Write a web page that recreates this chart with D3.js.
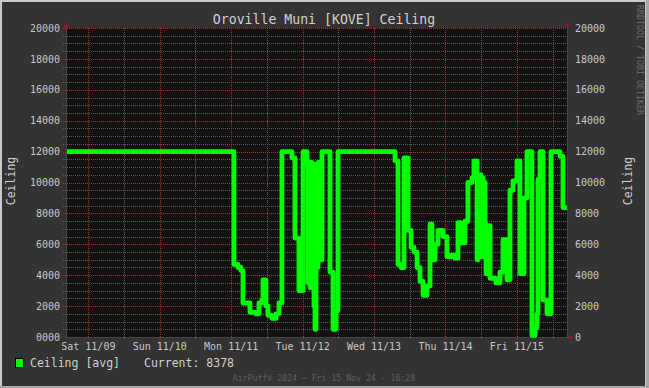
<!DOCTYPE html>
<html><head><meta charset="utf-8">
<script src="https://cdn.jsdelivr.net/npm/d3@7"></script>
<style>
body{margin:0;background:#333;}
svg{display:block;}
text{font-family:"DejaVu Sans Mono",monospace;}
</style>
</head><body>
<svg id="c" width="649" height="388"></svg>
<script>
const chartTitle = "Oroville Muni [KOVE] Ceiling";
const startTime = "2024-11-08T16:50";
const endTime = "2024-11-15T16:50";
const times = [
"2024-11-08T16:50",
"2024-11-11T00:56","2024-11-11T02:17","2024-11-11T03:17","2024-11-11T03:58","2024-11-11T06:19",
"2024-11-11T08:20","2024-11-11T09:20","2024-11-11T10:21","2024-11-11T10:41","2024-11-11T11:41",
"2024-11-11T12:22","2024-11-11T13:42","2024-11-11T15:03","2024-11-11T16:03","2024-11-11T17:03",
"2024-11-11T20:25","2024-11-11T21:26","2024-11-11T22:46",
"2024-11-12T00:08","2024-11-12T01:29","2024-11-12T01:49","2024-11-12T02:09","2024-11-12T02:29",
"2024-11-12T02:49","2024-11-12T03:10","2024-11-12T03:30","2024-11-12T03:50","2024-11-12T04:10",
"2024-11-12T04:30","2024-11-12T04:50","2024-11-12T05:10","2024-11-12T05:31","2024-11-12T05:51",
"2024-11-12T06:11","2024-11-12T06:31","2024-11-12T09:12","2024-11-12T10:13","2024-11-12T11:13",
"2024-11-12T11:54",
"2024-11-13T07:03","2024-11-13T08:04","2024-11-13T09:04","2024-11-13T10:05","2024-11-13T11:25",
"2024-11-13T12:26","2024-11-13T13:26","2024-11-13T14:27","2024-11-13T15:27","2024-11-13T16:28",
"2024-11-13T17:48","2024-11-13T18:49","2024-11-13T19:29","2024-11-13T20:30","2024-11-13T21:30",
"2024-11-13T23:11",
"2024-11-14T00:30","2024-11-14T01:51","2024-11-14T03:11","2024-11-14T04:12","2024-11-14T05:12",
"2024-11-14T06:33","2024-11-14T07:33","2024-11-14T08:54","2024-11-14T09:34","2024-11-14T10:37",
"2024-11-14T10:57","2024-11-14T11:17","2024-11-14T11:37","2024-11-14T11:58","2024-11-14T12:18",
"2024-11-14T12:38","2024-11-14T12:58","2024-11-14T13:18","2024-11-14T13:38","2024-11-14T13:59",
"2024-11-14T14:19","2024-11-14T14:39","2024-11-14T14:59","2024-11-14T16:58","2024-11-14T18:19",
"2024-11-14T19:19","2024-11-14T20:40","2024-11-14T21:40","2024-11-14T22:41",
"2024-11-15T00:01","2024-11-15T01:02","2024-11-15T02:23","2024-11-15T03:23","2024-11-15T05:04",
"2024-11-15T06:05","2024-11-15T06:45","2024-11-15T07:05","2024-11-15T07:46","2024-11-15T08:46",
"2024-11-15T10:07","2024-11-15T11:27","2024-11-15T14:29","2024-11-15T15:29","2024-11-15T16:50"
];
const ceilingValues = [
12000,
4700,4500,4300,2200,1600,
1500,2200,2400,3700,2000,
1400,1200,1500,2200,12000,
11600,6400,3000,
12000,11200,3500,11300,3200,
11300,4000,11200,2000,500,
11100,4500,11300,5000,11300,
5000,12000,4200,500,1700,
12000,
11400,4700,4500,11600,6900,
5800,5500,4500,3600,2700,
3300,7300,5000,6000,6900,
6500,
5200,5300,5100,7400,6100,
7500,10000,10300,11400,5000,
10400,5200,10500,5400,10300,
5200,10000,7300,4100,7200,
4100,7200,3800,3500,4200,
6300,3700,9500,10100,
11400,4100,9000,12000,100,
600,1500,10200,12000,2400,
1500,12000,11700,8378,8378
];
const yTicks = [0,2000,4000,6000,8000,10000,12000,14000,16000,18000,20000];
const leftTickLabels = ["0000","2000","4000","6000","8000","10000","12000","14000","16000","18000","20000"];
const rightTickLabels = ["0","2000","4000","6000","8000","10000","12000","14000","16000","18000","20000"];
const dayLabels = ["Sat 11/09","Sun 11/10","Mon 11/11","Tue 11/12","Wed 11/13","Thu 11/14","Fri 11/15"];
const axisLabel = "Ceiling";
const legendLabel = "Ceiling [avg]";
const currentLabel = "Current: 8378";
const footerText = "AirPuff\u00ae 2024 \u2013 Fri 15 Nov 24 - 16:28";
const watermark = "RRDTOOL / TOBI OETIKER";

const parse = d3.utcParse("%Y-%m-%dT%H:%M");
const data = times.map((t,i)=>({t:parse(t), v:ceilingValues[i]}));
const t0 = parse(startTime), t1 = parse(endTime);

const L=67, R=567, T=28, B=337;
const x = d3.scaleUtc().domain([t0,t1]).range([L,R]);
const y = d3.scaleLinear().domain([0,20000]).range([B,T]);

const svg = d3.select("#c");
// frame
svg.append("rect").attr("x",0).attr("y",0).attr("width",649).attr("height",388).attr("fill","#a8a8a8");
svg.append("rect").attr("x",0).attr("y",0).attr("width",646).attr("height",386).attr("fill","#c8c8c8");
svg.append("rect").attr("x",2).attr("y",2).attr("width",643).attr("height",384).attr("fill","#333333");
// plot bg
svg.append("rect").attr("x",L).attr("y",T).attr("width",R-L).attr("height",B-T).attr("fill","#121212");

const minorCol = "#5a5a5a", majorCol = "#a83232";
const gGrid = svg.append("g");
// horizontal grid
const minorY = d3.range(500,20000,500).filter(v=>v%2000!==0);
gGrid.append("g").selectAll("line").data(minorY).join("line")
  .attr("x1",L-4).attr("x2",R).attr("y1",d=>Math.round(y(d))+0.5).attr("y2",d=>Math.round(y(d))+0.5)
  .attr("stroke",minorCol).attr("stroke-width",1).attr("stroke-dasharray","1,1");
gGrid.append("g").selectAll("line").data(yTicks.filter(v=>v>0)).join("line")
  .attr("x1",L-4).attr("x2",R).attr("y1",d=>Math.round(y(d))+0.5).attr("y2",d=>Math.round(y(d))+0.5)
  .attr("stroke",majorCol).attr("stroke-width",1).attr("stroke-dasharray","1,1");
// vertical grid
const halfDays = d3.utcHour.every(12).range(t0,t1);
const days = d3.utcDay.range(t0,t1);
gGrid.append("g").selectAll("line").data(halfDays.filter(d=>d.getUTCHours()!==0)).join("line")
  .attr("x1",d=>Math.round(x(d))+0.5).attr("x2",d=>Math.round(x(d))+0.5).attr("y1",T).attr("y2",B+3)
  .attr("stroke",minorCol).attr("stroke-dasharray","1,1");
gGrid.append("g").selectAll("line").data(days).join("line")
  .attr("x1",d=>Math.round(x(d))+0.5).attr("x2",d=>Math.round(x(d))+0.5).attr("y1",T).attr("y2",B+3)
  .attr("stroke",majorCol).attr("stroke-dasharray","1,1");

// axes lines
svg.append("line").attr("x1",L-0.5).attr("x2",L-0.5).attr("y1",T-3).attr("y2",B+1).attr("stroke","#444");
svg.append("line").attr("x1",R+0.5).attr("x2",R+0.5).attr("y1",T-3).attr("y2",B+1).attr("stroke","#444");
svg.append("line").attr("x1",L-1).attr("x2",R+2).attr("y1",B+0.5).attr("y2",B+0.5).attr("stroke","#444");
// arrows
const arrowCol = "#8a1c1c";
svg.append("path").attr("d",`M${L-3},${T-1}L${L+2},${T-1}L${L-0.5},${T-6}Z`).attr("fill",arrowCol);
svg.append("path").attr("d",`M${R-2},${T-1}L${R+3},${T-1}L${R+0.5},${T-6}Z`).attr("fill",arrowCol);
svg.append("path").attr("d",`M${R+2},${B-2}L${R+2},${B+3}L${R+7},${B+0.5}Z`).attr("fill",arrowCol);

// y labels
const tickCol = "#c8c8c8";
svg.append("g").selectAll("text").data(yTicks).join("text")
  .attr("x",L-7).attr("y",d=>y(d)).attr("dy","0.36em").attr("text-anchor","end")
  .attr("font-size",10).attr("fill",tickCol).text((d,i)=>leftTickLabels[i]);
svg.append("g").selectAll("text").data(yTicks).join("text")
  .attr("x",R+8).attr("y",d=>y(d)).attr("dy","0.36em").attr("text-anchor","start")
  .attr("font-size",10).attr("fill",tickCol).text((d,i)=>rightTickLabels[i]);
// x labels
svg.append("g").selectAll("text").data(days).join("text")
  .attr("x",d=>x(d)).attr("y",350).attr("text-anchor","middle")
  .attr("font-size",10).attr("fill",tickCol).text((d,i)=>dayLabels[i]);

// title
svg.append("text").attr("x",324).attr("y",24).attr("text-anchor","middle")
  .attr("font-size",13.2).attr("fill","#d0d0d0").text(chartTitle);
// axis labels
svg.append("text").attr("transform","translate(11,181) rotate(-90)").attr("text-anchor","middle")
  .attr("dy","0.35em").attr("font-size",11.5).attr("fill","#d0d0d0").text(axisLabel);
svg.append("text").attr("transform","translate(628,181) rotate(-90)").attr("text-anchor","middle")
  .attr("dy","0.35em").attr("font-size",11.5).attr("fill","#d0d0d0").text(axisLabel);
// watermark
svg.append("text").attr("transform","translate(640,5) rotate(90)").attr("text-anchor","start")
  .attr("dy","0.35em").attr("font-size",8.3).attr("fill","#6a6a6a").text(watermark);

// line
const line = d3.line().x(d=>x(d.t)).y(d=>y(d.v)).curve(d3.curveStepAfter);
svg.append("path").datum(data).attr("d",line).attr("fill","none")
  .attr("stroke","#00ff00").attr("stroke-width",4.8).attr("stroke-linejoin","round");

// legend
svg.append("rect").attr("x",15.5).attr("y",358.5).attr("width",8).attr("height",9)
  .attr("fill","#00ff00").attr("stroke","#000").attr("stroke-width",1);
svg.append("text").attr("x",30).attr("y",367).attr("font-size",11.5).attr("fill","#d0d0d0").text(legendLabel);
svg.append("text").attr("x",144).attr("y",367).attr("font-size",11.5).attr("fill","#d0d0d0").text(currentLabel);
// footer
svg.append("text").attr("x",324).attr("y",381).attr("text-anchor","middle")
  .attr("font-size",8.2).attr("fill","#5e5e5e").text(footerText);
</script>
</body></html>
